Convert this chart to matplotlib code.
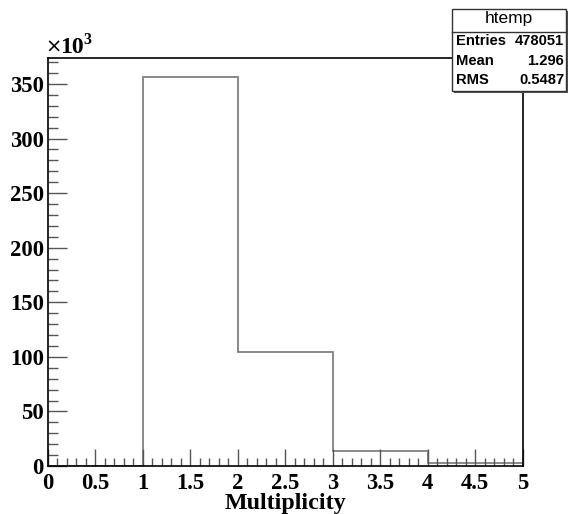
import matplotlib
matplotlib.use("Agg")
import matplotlib.pyplot as plt
from matplotlib.patches import Rectangle
from matplotlib.ticker import MultipleLocator, FuncFormatter
import numpy as np

# Data
bin_edges = [0, 1, 2, 3, 4, 5]
counts = [0, 356500, 104700, 13800, 3051]
stats_title = "htemp"
stats_labels = ["Entries", "Mean", "RMS"]
stats_values = ["478051", "1.296", "0.5487"]
x_label = "Multiplicity"

W, H = 568, 514
fig = plt.figure(figsize=(W / 100, H / 100), dpi=100)
fig.patch.set_facecolor("white")

L, R, T, B = 48, 522.5, 57.7, 466
ax = fig.add_axes([L / W, 1 - B / H, (R - L) / W, (B - T) / H])

ax.stairs(np.array(counts) / 1000.0, bin_edges, color="#808080", linewidth=1.3)
ax.set_xlim(0, 5)
ax.set_ylim(0, 374.1)

serif = ["Liberation Serif", "DejaVu Serif"]
sans = ["Liberation Sans", "DejaVu Sans"]

ax.xaxis.set_major_locator(MultipleLocator(0.5))
ax.xaxis.set_minor_locator(MultipleLocator(0.1))
ax.yaxis.set_major_locator(MultipleLocator(50))
ax.yaxis.set_minor_locator(MultipleLocator(10))
ax.xaxis.set_major_formatter(FuncFormatter(lambda v, p: ("%g" % v)))
ax.yaxis.set_major_formatter(FuncFormatter(lambda v, p: ("%g" % v)))

ax.tick_params(which="both", direction="in", top=False, right=False, color="#555555")
ax.tick_params(axis="x", which="major", length=12, width=1, pad=5)
ax.tick_params(axis="x", which="minor", length=6, width=1)
ax.tick_params(axis="y", which="major", length=14, width=1, pad=3)
ax.tick_params(axis="y", which="minor", length=7, width=1)
for lab in ax.get_xticklabels() + ax.get_yticklabels():
    lab.set_family(serif)
    lab.set_fontweight("bold")
    lab.set_fontsize(16.3)
for s in ax.spines.values():
    s.set_color("black")
    s.set_linewidth(1.2)

ax.set_xlabel(x_label, family=serif, fontweight="bold", fontsize=17.3, labelpad=-1)

fig.text(45 / W, 1 - 53 / H, "\u00d7", family=["DejaVu Sans"], fontsize=14,
         ha="left", va="baseline")
fig.text(60 / W, 1 - 53 / H, "10", family=serif, fontsize=17,
         fontweight="bold", ha="left", va="baseline")
fig.text(83 / W, 1 - 44 / H, "3", family=serif, fontsize=11.5,
         fontweight="bold", ha="left", va="baseline")

# Stats box
bx0, by0, bx1, by1 = 452, 9, 566, 91
shadow = Rectangle((bx0 + 1.5, H - by1 - 1.5), bx1 - bx0, by1 - by0, transform=None,
                   facecolor="#555555", edgecolor="none", zorder=5)
box = Rectangle((bx0, H - by1), bx1 - bx0, by1 - by0, transform=None,
                facecolor="white", edgecolor="#333333", linewidth=1, zorder=6)
fig.patches.extend([shadow, box])
fig.add_artist(plt.Line2D([bx0 / W, bx1 / W], [1 - 31.5 / H, 1 - 31.5 / H],
                          color="#333333", linewidth=1, zorder=7))
fig.text((bx0 + bx1) / 2 / W, 1 - 19 / H, stats_title, family=sans, fontsize=12.5,
         ha="center", va="center", zorder=8)
rows_y = [41, 61, 80]
for lab, val, yy in zip(stats_labels, stats_values, rows_y):
    fig.text((bx0 + 4) / W, 1 - yy / H, lab, family=sans, fontweight="bold", fontsize=10.6,
             ha="left", va="center", zorder=8)
    fig.text((bx1 - 2) / W, 1 - yy / H, val, family=sans, fontweight="bold", fontsize=10.6,
             ha="right", va="center", zorder=8)

fig.savefig("out.png", dpi=100)
